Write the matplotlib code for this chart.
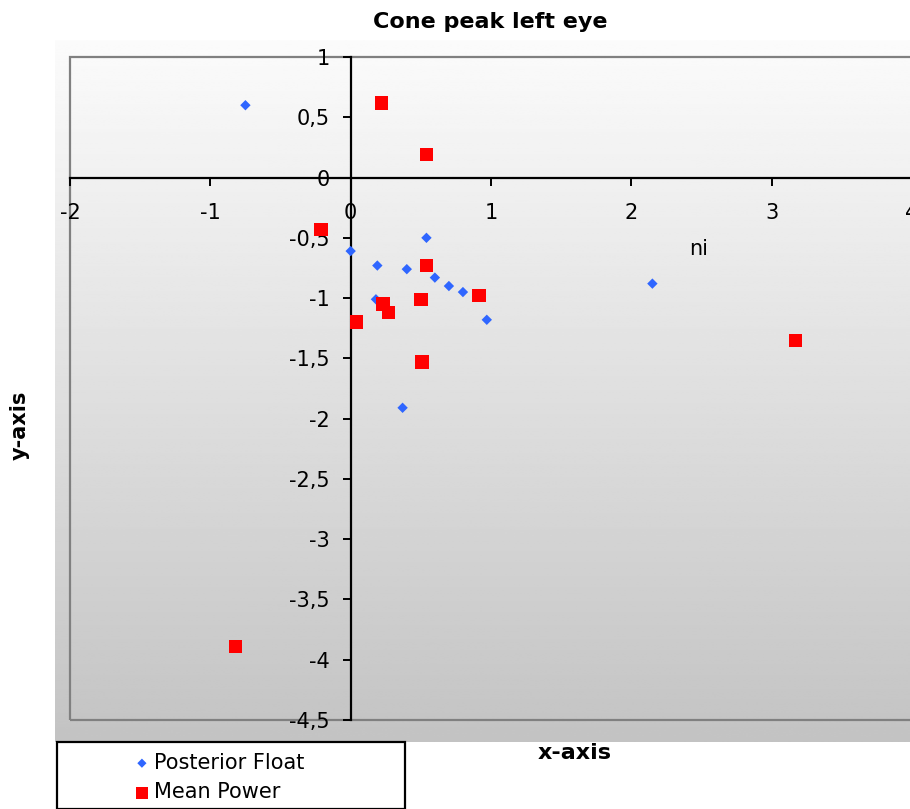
import numpy as np
import matplotlib
matplotlib.use("Agg")
import matplotlib.pyplot as plt
from matplotlib.patches import Rectangle
from matplotlib.ticker import FuncFormatter, MultipleLocator

plt.rcParams['font.family'] = ['DejaVu Sans']

# Posterior Float (blue diamonds)
pf_x = [-0.75, 0.00, 0.19, 0.54, 0.40, 0.60, 0.70, 0.80, 0.97, 0.18, 0.37, 2.15]
pf_y = [0.60, -0.61, -0.73, -0.50, -0.76, -0.83, -0.90, -0.95, -1.18, -1.01, -1.91, -0.88]

# Mean Power (red squares)
mp_x = [0.22, 0.54, -0.21, 0.54, 0.50, 0.915, 0.23, 0.27, 0.04, 0.51, 3.17, -0.82]
mp_y = [0.62, 0.19, -0.43, -0.73, -1.01, -0.98, -1.05, -1.12, -1.20, -1.53, -1.35, -3.89]

W, H = 910, 809
fig = plt.figure(figsize=(W / 100, H / 100), dpi=100)

# chart area gradient background
bg = fig.add_axes([55 / W, (H - 742) / H, (W - 55) / W, (742 - 40) / H])
grad = np.linspace(0.985, 0.765, 256).reshape(-1, 1)
bg.imshow(np.repeat(grad, 2, axis=1), cmap='gray', vmin=0, vmax=1,
          aspect='auto', extent=[0, 1, 0, 1])
bg.axis('off')

ax = fig.add_axes([70 / W, (H - 720) / H, 842 / W, 663 / H])
ax.set_facecolor('none')
ax.set_xlim(-2, 4)
ax.set_ylim(-4.5, 1)

ax.scatter(pf_x, pf_y, marker='D', s=28, color='#2f66ff', edgecolors='none',
           label='Posterior Float', zorder=3)
ax.scatter(mp_x, mp_y, marker='s', s=95, color='#ff0000', edgecolors='none',
           label='Mean Power', zorder=3)

# axes crossing at the origin
for side in ['top', 'right']:
    ax.spines[side].set_visible(False)
ax.spines['left'].set_position(('data', 0))
ax.spines['bottom'].set_position(('data', 0))
ax.spines['left'].set_linewidth(1.6)
ax.spines['bottom'].set_linewidth(1.6)
ax.add_patch(Rectangle((0, 0), 1, 1, transform=ax.transAxes, fill=False,
                       edgecolor='#808080', linewidth=1.6, clip_on=False))

ax.xaxis.set_major_locator(MultipleLocator(1))
ax.yaxis.set_major_locator(MultipleLocator(0.5))
fmt = FuncFormatter(lambda v, p: ('%g' % (0 if abs(v) < 1e-9 else v)).replace('.', ','))
ax.xaxis.set_major_formatter(fmt)
ax.yaxis.set_major_formatter(fmt)
ax.tick_params(axis='x', direction='out', length=6, width=1.4, pad=12,
               labelsize=15, colors='black')
ax.tick_params(axis='y', direction='out', length=6, width=1.4, pad=9,
               labelsize=15, colors='black')

ax.text(2.48, -0.59, 'ni', fontsize=15, ha='center', va='center')

fig.text(490 / W, 1 - 22 / H, 'Cone peak left eye', fontsize=16,
         fontweight='bold', ha='center', va='center')
fig.text(575 / W, 1 - 753 / H, 'x-axis', fontsize=16, fontweight='bold',
         ha='center', va='center')
fig.text(20 / W, 1 - 425 / H, 'y-axis', fontsize=15, fontweight='bold',
         ha='center', va='center', rotation=90)

# legend box
fig.patches.append(Rectangle((57 / W, 0), 348 / W, (H - 742) / H,
                             transform=fig.transFigure, facecolor='white',
                             edgecolor='black', linewidth=1.6, zorder=5))
leg = fig.legend(*ax.get_legend_handles_labels(), loc='upper left',
                 bbox_to_anchor=(119 / W, 1 - 736 / H), frameon=False,
                 fontsize=15, handlelength=0.6, handletextpad=0.3,
                 labelspacing=0.46, borderpad=0.3)
leg.legend_handles[0].set_sizes([22])
leg.legend_handles[1].set_sizes([75])
leg.set_zorder(6)

fig.savefig('out.png', dpi=100)
